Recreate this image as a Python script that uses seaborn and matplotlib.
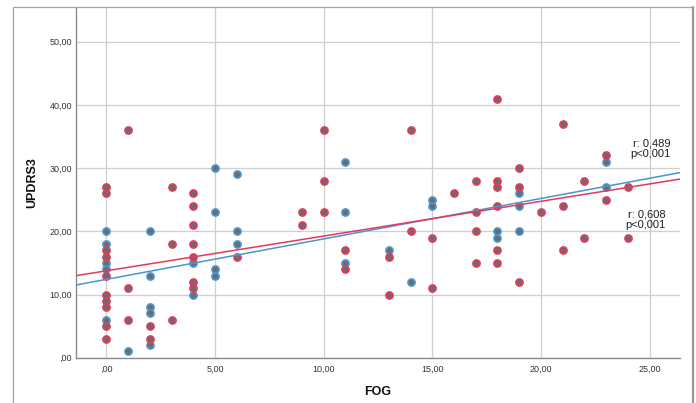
import matplotlib
matplotlib.use("Agg")
import matplotlib.pyplot as plt
from matplotlib.patches import Rectangle
from matplotlib.lines import Line2D
import seaborn as sns
import pandas as pd

# ---- data ----
blue_fog = [0, 0, 0, 0, 0, 1, 2, 2, 2, 2, 2, 4, 4, 5, 5, 5, 5, 6, 6, 6,
            11, 11, 11, 13, 14, 15, 15, 18, 18, 19, 19, 19, 23, 23]
blue_updrs = [20, 18, 15, 14, 6, 1, 20, 13, 8, 7, 2, 15, 10, 30, 23, 14, 13, 29, 20, 18,
              31, 23, 15, 17, 12, 25, 24, 20, 19, 26, 24, 20, 31, 27]

red_fog = [0, 0, 0, 0, 0, 0, 0, 0, 0, 0, 1, 1, 1, 2, 2, 3, 3, 3,
           4, 4, 4, 4, 4, 4, 4, 6, 9, 9, 10, 10, 10, 11, 11, 13, 13, 14, 14,
           15, 15, 16, 17, 17, 17, 17, 18, 18, 18, 18, 18, 18, 19, 19, 19,
           20, 21, 21, 21, 22, 22, 23, 23, 24, 24]
red_updrs = [27, 26, 17, 16, 13, 10, 9, 8, 5, 3, 36, 11, 6, 5, 3, 27, 18, 6,
             26, 24, 21, 18, 16, 12, 11, 16, 23, 21, 36, 28, 23, 17, 14, 16, 10, 36, 20,
             19, 11, 26, 28, 23, 20, 15, 41, 28, 27, 24, 17, 15, 30, 27, 12,
             23, 37, 24, 17, 28, 19, 32, 25, 27, 19]

# fit lines (intercept, slope)
blue_fit = (12.4, 0.64)
red_fit = (13.75, 0.55)

blue_label = "r: 0,489\np<0,001"
red_label = "r: 0,608\np<0,001"
blue_label_pos = (25.95, 33.0)
red_label_pos = (25.75, 21.8)

x_ticks = [0, 5, 10, 15, 20, 25]
x_tick_labels = [",00", "5,00", "10,00", "15,00", "20,00", "25,00"]
y_ticks = [0, 10, 20, 30, 40, 50]
y_tick_labels = [",00", "10,00", "20,00", "30,00", "40,00", "50,00"]

BLUE = "#4a95d0"
RED = "#e23a5c"
FILL = "#6c6c6c"

sns.set_style("white")
plt.rcParams["font.family"] = ["Liberation Sans", "DejaVu Sans"]

df = pd.DataFrame({
    "FOG": blue_fog + red_fog,
    "UPDRS3": blue_updrs + red_updrs,
    "group": ["b"] * len(blue_fog) + ["r"] * len(red_fog),
})

W, H = 696, 403
fig = plt.figure(figsize=(W / 100, H / 100), dpi=100)
ax = fig.add_axes([76 / W, 1 - 357.7 / H, (680 - 76) / W, (357.7 - 7) / H])

for grp, col in (("b", BLUE), ("r", RED)):
    sns.scatterplot(data=df[df.group == grp], x="FOG", y="UPDRS3", ax=ax,
                    color=FILL, edgecolor=col, linewidth=1.3, s=25,
                    zorder=3, legend=False)

for (b, m), col in ((blue_fit, BLUE), (red_fit, RED)):
    ax.axline((0, b), slope=m, color=col, lw=1.1, zorder=4)

ax.text(*blue_label_pos, blue_label, ha="right", va="center", fontsize=8,
        color="#222222", multialignment="right", linespacing=1.05, zorder=5)
ax.text(*red_label_pos, red_label, ha="right", va="center", fontsize=8,
        color="#222222", multialignment="right", linespacing=1.05, zorder=5)

ax.set_xlim(-1.40, 26.40)
ax.set_ylim(0, 55.5)
ax.set_xticks(x_ticks)
ax.set_xticklabels(x_tick_labels)
ax.set_yticks(y_ticks)
ax.set_yticklabels(y_tick_labels)
ax.tick_params(axis="both", length=0, labelsize=6.5, labelcolor="#333333")
ax.tick_params(axis="x", pad=5)
ax.tick_params(axis="y", pad=3)

ax.grid(True, color="#cfcfcf", lw=0.9, zorder=0)
ax.set_axisbelow(True)
for s in ("top", "right"):
    ax.spines[s].set_visible(False)
for s in ("left", "bottom"):
    ax.spines[s].set_color("#8c8c8c")
    ax.spines[s].set_linewidth(1.0)

ax.set_xlabel("FOG", fontsize=9, fontweight="bold", labelpad=9, color="#111111")
ax.set_ylabel("UPDRS3", fontsize=9, fontweight="bold", labelpad=8, color="#111111")

# outer frame
fig.patches.append(Rectangle((13 / W, -0.05), (692.5 - 13) / W, 1.05 - 7 / H,
                             transform=fig.transFigure, fill=False,
                             edgecolor="#a5a5a5", lw=0.9))
fig.lines.append(Line2D([692.5 / W, 692.5 / W], [0, 1 - 7 / H],
                        transform=fig.transFigure, color="#9a9a9a", lw=1.6))

fig.savefig("out.png", dpi=100)
